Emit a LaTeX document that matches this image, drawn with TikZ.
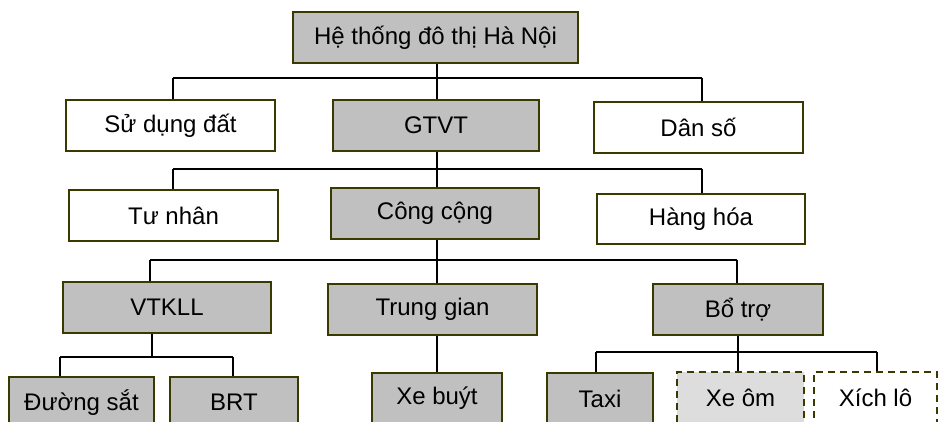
\documentclass[tikz,border=0pt]{standalone}
\usepackage{fontspec}
\setmainfont{Liberation Sans}
\definecolor{boxgray}{HTML}{C0C0C0}
\definecolor{lightgray2}{HTML}{DDDDDD}
\definecolor{olive2}{HTML}{3A3A00}
\begin{document}
\begin{tikzpicture}[x=1pt,y=-1pt,
  every node/.style={font=\fontsize{24}{28}\selectfont, inner sep=0pt},
  box/.style={draw=olive2, line width=1.5pt, rectangle},
  graybox/.style={box, fill=boxgray},
  whitebox/.style={box, fill=white},
  dashbox/.style={box, dash pattern=on 7pt off 5pt},
  conn/.style={line width=1.5pt, black}]
\useasboundingbox (0,0) rectangle (938,421);
\clip (0,0) rectangle (938,421);
% level 0
\node[graybox, minimum width=285pt, minimum height=51pt] (root) at (435.5,37.5) {Hệ thống đô thị Hà Nội};
% level 1
\node[whitebox, minimum width=209pt, minimum height=51pt] (sudung) at (170.5,125.5) {Sử dụng đất};
\node[graybox, minimum width=206pt, minimum height=51pt] (gtvt) at (436,125.5) {GTVT};
\node[whitebox, minimum width=209pt, minimum height=51pt] (danso) at (698.5,127.5) {Dân số};
% level 2
\node[whitebox, minimum width=209pt, minimum height=51pt] (tunhan) at (173.5,215.5) {Tư nhân};
\node[graybox, minimum width=208pt, minimum height=51pt] (congcong) at (435,213.5) {Công cộng};
\node[whitebox, minimum width=208pt, minimum height=50pt] (hanghoa) at (701,219) {Hàng hóa};
% level 3
\node[graybox, minimum width=208pt, minimum height=51pt] (vtkll) at (167,307.5) {VTKLL};
\node[graybox, minimum width=209pt, minimum height=51pt] (trunggian) at (432.5,309.5) {Trung gian};
\node[graybox, minimum width=170pt, minimum height=51pt] (botro) at (738,309.5) {Bổ trợ};
% level 4
\node[graybox, minimum width=145pt, minimum height=51pt] (duongsat) at (81.5,402.5) {Đường sắt};
\node[graybox, minimum width=128pt, minimum height=51pt] (brt) at (234,402.5) {BRT};
\node[graybox, minimum width=130pt, minimum height=51pt] (xebuyt) at (437,398.5) {Xe buýt};
\node[graybox, minimum width=106pt, minimum height=51pt] (taxi) at (600,398.5) {Taxi};
\node[dashbox, fill=lightgray2, minimum width=127pt, minimum height=51pt] (xeom) at (740.5,397.5) {Xe ôm};
\node[dashbox, fill=white, minimum width=123pt, minimum height=51pt] (xichlo) at (875.5,397.5) {Xích lô};
% bus coordinates
\coordinate (spine) at (437,0);
\coordinate (b1l) at (173,78);
\coordinate (b1r) at (702,78);
\coordinate (b2l) at (173,169);
\coordinate (b2r) at (702,169);
\coordinate (b3l) at (150,260);
\coordinate (b3r) at (737,260);
\coordinate (b4l) at (60,357);
\coordinate (b4r) at (233,357);
\coordinate (b4m) at (152,357);
\coordinate (b5l) at (596,352);
\coordinate (b5r) at (877,352);
\coordinate (b5m) at (738,352);
% connectors level 0-1
\draw[conn] (b1l) -- (b1r);
\draw[conn] (root.south -| spine) -- (gtvt.north -| spine);
\draw[conn] (b1l) -- (b1l |- sudung.north);
\draw[conn] (b1r) -- (b1r |- danso.north);
% level 1-2
\draw[conn] (b2l) -- (b2r);
\draw[conn] (gtvt.south -| spine) -- (congcong.north -| spine);
\draw[conn] (b2l) -- (b2l |- tunhan.north);
\draw[conn] (b2r) -- (b2r |- hanghoa.north);
% level 2-3
\draw[conn] (b3l) -- (b3r);
\draw[conn] (congcong.south -| spine) -- (trunggian.north -| spine);
\draw[conn] (b3l) -- (b3l |- vtkll.north);
\draw[conn] (b3r) -- (b3r |- botro.north);
% level 3-4
\draw[conn] (b4l) -- (b4r);
\draw[conn] (vtkll.south -| b4m) -- (b4m);
\draw[conn] (b4l) -- (b4l |- duongsat.north);
\draw[conn] (b4r) -- (b4r |- brt.north);
\draw[conn] (trunggian.south -| spine) -- (xebuyt.north -| spine);
\draw[conn] (b5l) -- (b5r);
\draw[conn] (botro.south -| b5m) -- (xeom.north -| b5m);
\draw[conn] (b5l) -- (b5l |- taxi.north);
\draw[conn] (b5r) -- (b5r |- xichlo.north);
\end{tikzpicture}
\end{document}
